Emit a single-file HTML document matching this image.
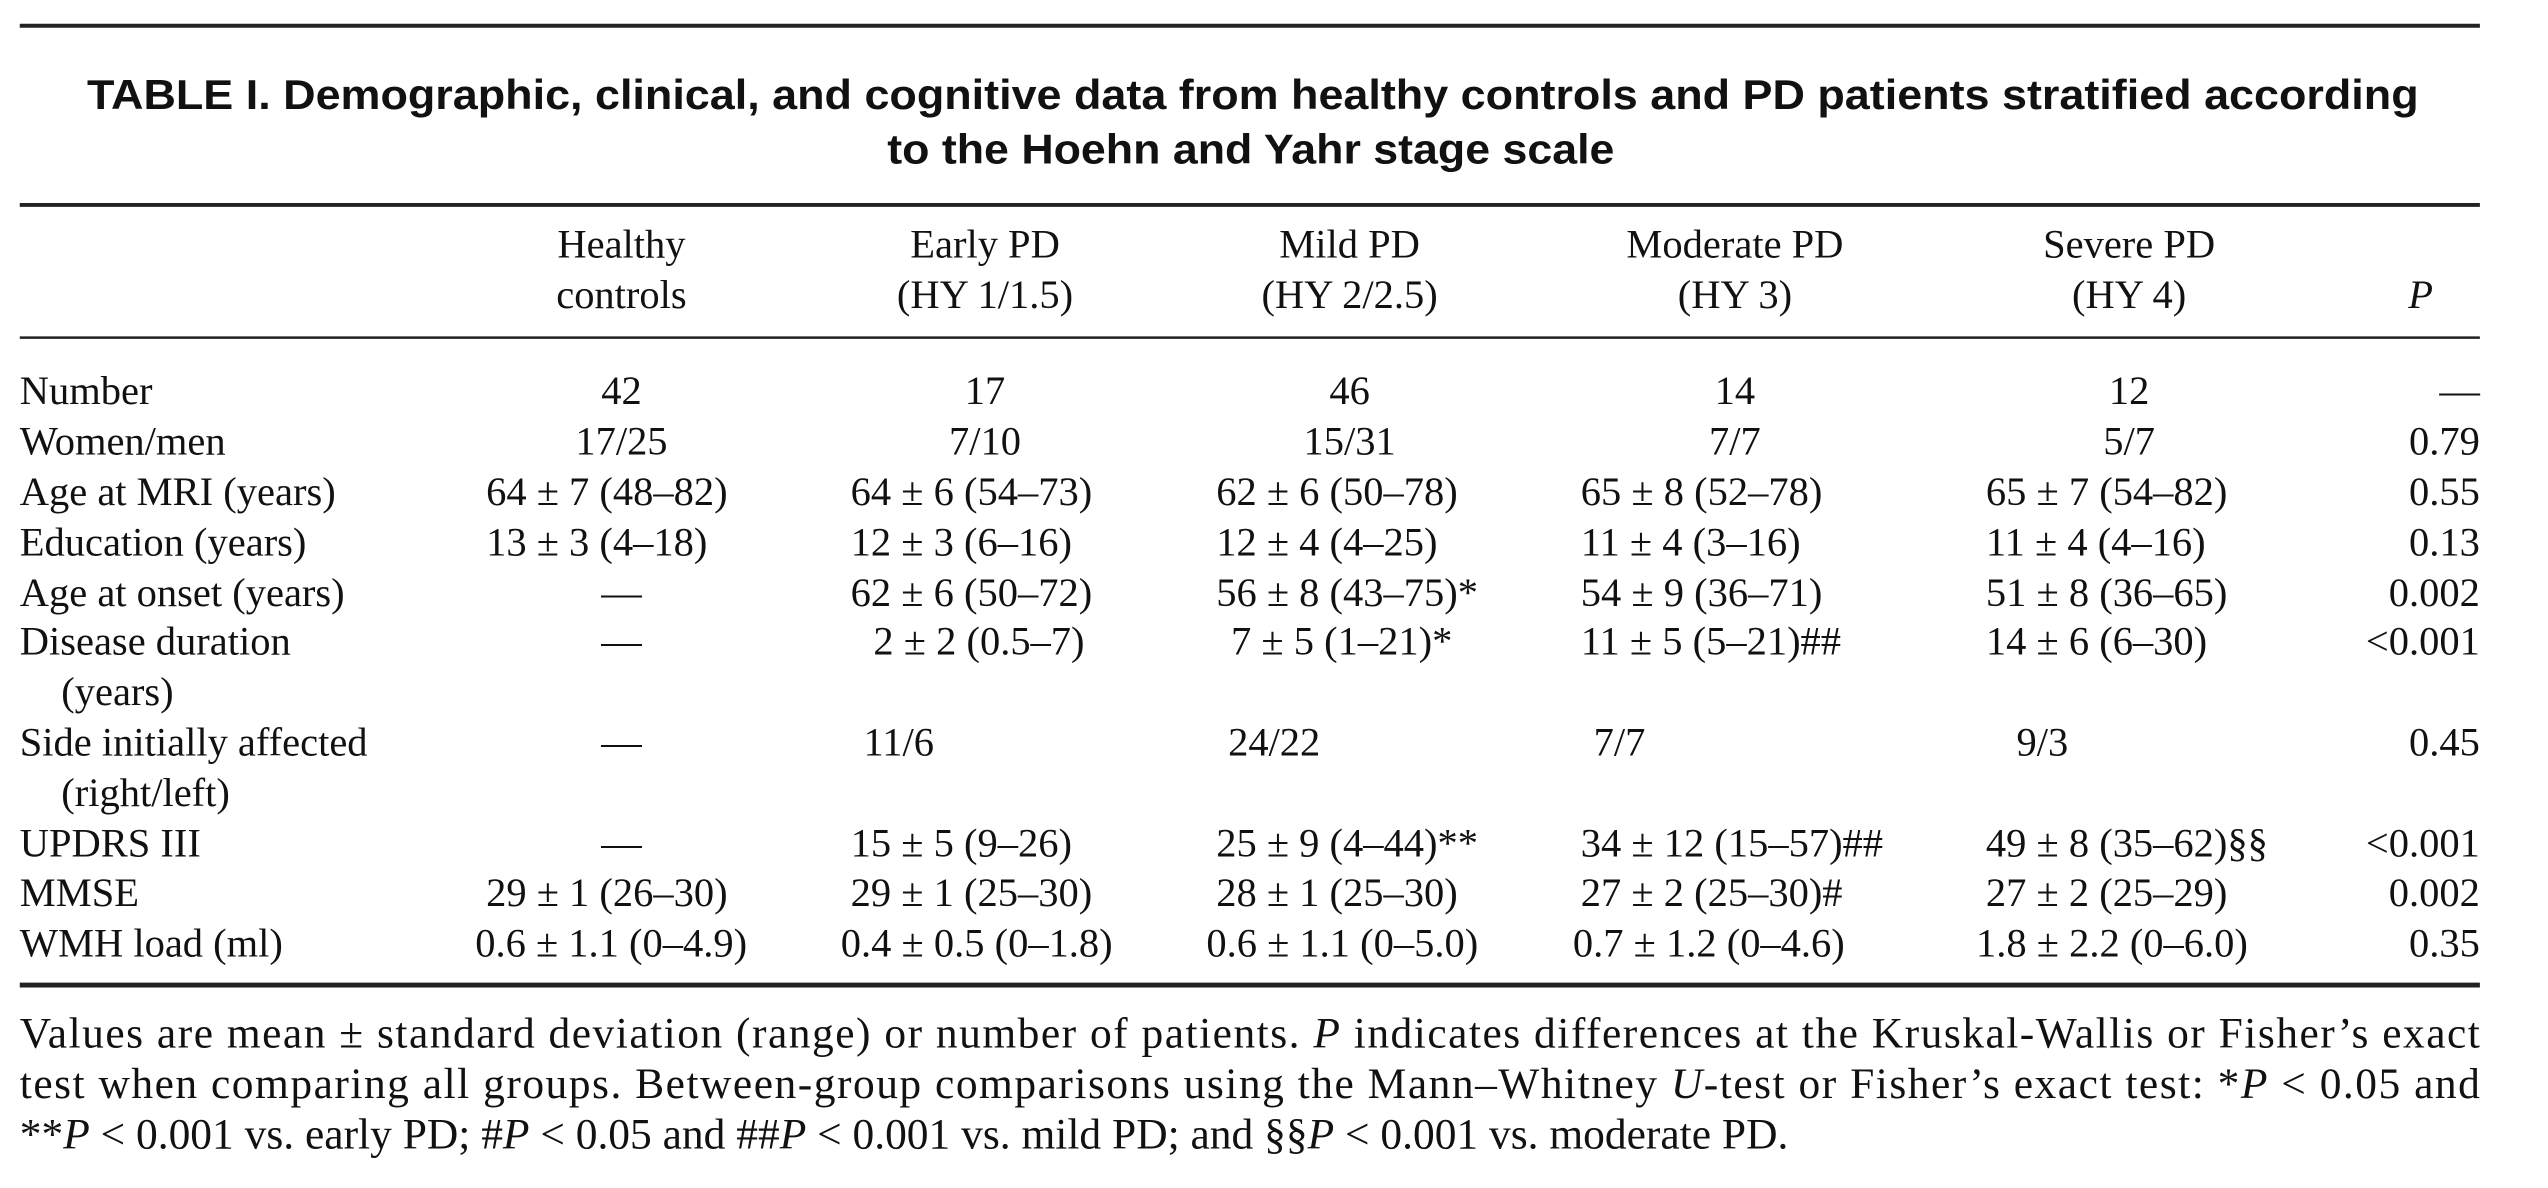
<!DOCTYPE html>
<html><head><meta charset="utf-8"><style>
html,body{margin:0;padding:0;background:#fff;}
svg{display:block;}
.t{font-family:"Liberation Sans Narrow","Liberation Sans",sans-serif;font-weight:bold;font-size:42px;fill:#111;}
.b{font-family:"Liberation Serif",serif;font-size:41px;fill:#111;}
.f{font-family:"Liberation Serif",serif;font-size:44px;fill:#111;}
</style></head><body>
<svg width="2548" height="1188" viewBox="0 0 2548 1188">
<g transform="scale(0.988,0.99)">
<line x1="20" y1="26" x2="2510" y2="26" stroke="#222" stroke-width="4"/>
<text class="t" x="1268" y="110" text-anchor="middle" textLength="2360" lengthAdjust="spacingAndGlyphs">TABLE I. Demographic, clinical, and cognitive data from healthy controls and PD patients stratified according</text>
<text class="t" x="1266" y="165" text-anchor="middle" textLength="736" lengthAdjust="spacingAndGlyphs">to the Hoehn and Yahr stage scale</text>
<line x1="20" y1="207" x2="2510" y2="207" stroke="#222" stroke-width="4"/>
<line x1="20" y1="341" x2="2510" y2="341" stroke="#222" stroke-width="2.5"/>
<line x1="20" y1="995" x2="2510" y2="995" stroke="#222" stroke-width="5"/>
<g id="tbl"></g>
<g>
<text class="f" x="20" y="1058" textLength="2490" lengthAdjust="spacing">Values are mean ± standard deviation (range) or number of patients. <tspan font-style="italic">P</tspan> indicates differences at the Kruskal-Wallis or Fisher’s exact</text>
<text class="f" x="20" y="1109" textLength="2490" lengthAdjust="spacing">test when comparing all groups. Between-group comparisons using the Mann–Whitney <tspan font-style="italic">U</tspan>-test or Fisher’s exact test: *<tspan font-style="italic">P</tspan> &lt; 0.05 and</text>
<text class="f" x="20" y="1160">**<tspan font-style="italic">P</tspan> &lt; 0.001 vs. early PD; #<tspan font-style="italic">P</tspan> &lt; 0.05 and ##<tspan font-style="italic">P</tspan> &lt; 0.001 vs. mild PD; and §§<tspan font-style="italic">P</tspan> &lt; 0.001 vs. moderate PD.</text>
</g>
</g>
</svg>
<script>
const NS="http://www.w3.org/2000/svg";
const g=document.getElementById('tbl');
function txt(x,y,s,anchor,name,italic){
  const t=document.createElementNS(NS,'text');
  t.setAttribute('class','b');
  t.setAttribute('x',x);t.setAttribute('y',y);
  if(anchor)t.setAttribute('text-anchor',anchor);
  if(italic)t.setAttribute('font-style','italic');
  t.textContent=s;
  
  
  g.appendChild(t);
}
const hc=[629,997,1366,1756,2155];
const h1=["Healthy","Early PD","Mild PD","Moderate PD","Severe PD"];
const h2=["controls","(HY 1/1.5)","(HY 2/2.5)","(HY 3)","(HY 4)"];
h1.forEach((s,i)=>{txt(hc[i],260,s,'middle','column-header');txt(hc[i],311,h2[i],'middle','column-header-sub');});
txt(2450,311,"P",'middle','p-column-header',true);
const rows=[
["Number","",["42","17","46","14","12"],"—",397,"c"],
["Women/men","",["17/25","7/10","15/31","7/7","5/7"],"0.79",448,"c"],
["Age at MRI (years)","",["64 ± 7 (48–82)","64 ± 6 (54–73)","62 ± 6 (50–78)","65 ± 8 (52–78)","65 ± 7 (54–82)"],"0.55",499,"l"],
["Education (years)","",["13 ± 3 (4–18)","12 ± 3 (6–16)","12 ± 4 (4–25)","11 ± 4 (3–16)","11 ± 4 (4–16)"],"0.13",550,"l"],
["Age at onset (years)","",["—","62 ± 6 (50–72)","56 ± 8 (43–75)*","54 ± 9 (36–71)","51 ± 8 (36–65)"],"0.002",601,"l"],
["Disease duration","(years)",["—","2 ± 2 (0.5–7)","7 ± 5 (1–21)*","11 ± 5 (5–21)##","14 ± 6 (6–30)"],"<0.001",650,"l2"],
["Side initially affected","(right/left)",["—","11/6","24/22","7/7","9/3"],"0.45",752,"s"],
["UPDRS III","",["—","15 ± 5 (9–26)","25 ± 9 (4–44)**","34 ± 12 (15–57)##","49 ± 8 (35–62)§§"],"<0.001",854,"l"],
["MMSE","",["29 ± 1 (26–30)","29 ± 1 (25–30)","28 ± 1 (25–30)","27 ± 2 (25–30)#","27 ± 2 (25–29)"],"0.002",904,"l"],
["WMH load (ml)","",["0.6 ± 1.1 (0–4.9)","0.4 ± 0.5 (0–1.8)","0.6 ± 1.1 (0–5.0)","0.7 ± 1.2 (0–4.6)","1.8 ± 2.2 (0–6.0)"],"0.35",955,"w"]
];
const L={l:[492,861,1231,1600,2010],l2:[492,884,1246,1600,2010],s:[492,874,1243,1613,2041],w:[481,851,1221,1592,2000]};
rows.forEach(r=>{
  const y=r[4]+11;
  txt(20,y,r[0],null,'row-label');
  if(r[1])txt(62,y+51,r[1],null,'row-label-cont');
  r[2].forEach((v,i)=>{
    if(r[5]==='c'||v==='—') txt(hc[i],y,v,'middle','cell');
    else txt(L[r[5]][i],y,v,null,'cell');
  });
  txt(2510,y,r[3],'end','p-value');
});
</script>
</body></html>
